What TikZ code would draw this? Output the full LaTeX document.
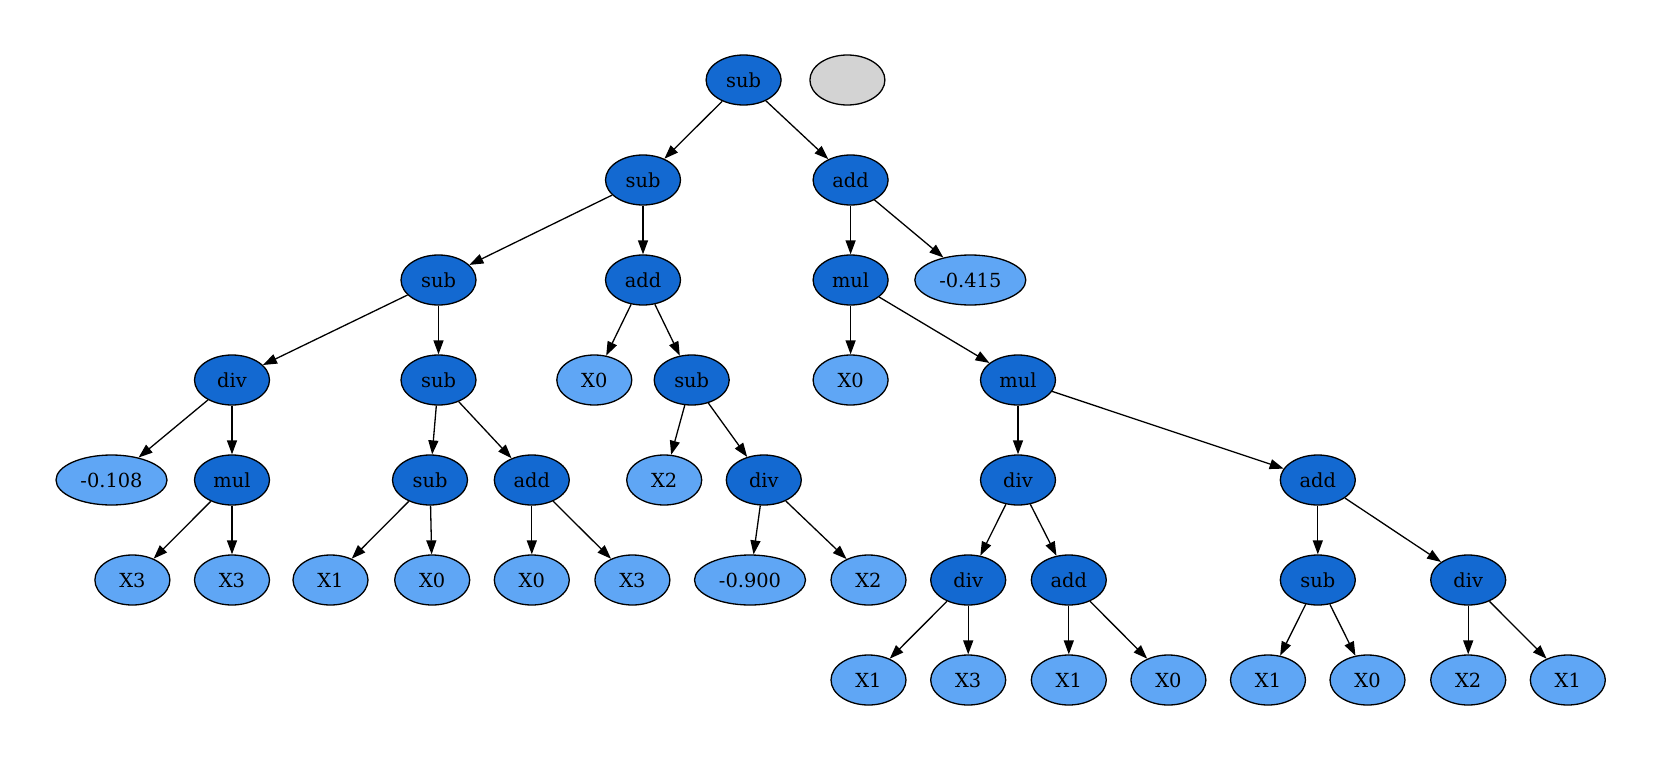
\documentclass[tikz,border=0pt]{standalone}
\usepackage{fontspec}
\setmainfont{DejaVu Serif}
\usetikzlibrary{shapes.geometric,arrows.meta}
\definecolor{opc}{HTML}{1369D1}
\definecolor{leafc}{HTML}{5FA6F5}
\definecolor{grayc}{HTML}{D3D3D3}
\tikzset{
  base/.style={ellipse,draw=black,line width=1.3pt,minimum width=75pt,minimum height=50pt,inner sep=0pt,font=\fontsize{19.4}{23}\selectfont},
  op/.style={base,fill=opc},
  leaf/.style={base,fill=leafc},
  wide/.style={minimum width=111pt},
  edge/.style={line width=1.3pt,-{Triangle[length=14pt,width=10pt]}}
}
\begin{document}
\begin{tikzpicture}[x=1pt,y=-1pt]
\useasboundingbox (0,0) rectangle (1661,760);
% row 1
\node[op] (r) at (743.6,80) {sub};
\node[base,fill=grayc] (g) at (847.4,80) {};
% row 2
\node[op] (s1) at (643,180) {sub};
\node[op] (a1) at (850.6,180) {add};
% row 3
\node[op] (s2) at (438.5,280) {sub};
\node[op] (a2) at (643,280) {add};
\node[op] (m1) at (850.6,280) {mul};
\node[leaf,wide] (c415) at (970.3,280) {-0.415};
% row 4
\node[op] (d1) at (232,380) {div};
\node[op] (s3) at (438.5,380) {sub};
\node[leaf] (x0a) at (594.3,380) {X0};
\node[op] (s4) at (691.7,380) {sub};
\node[leaf] (x0b) at (850.6,380) {X0};
\node[op] (m2) at (1018,380) {mul};
% row 5
\node[leaf,wide] (c108) at (111.5,480) {-0.108};
\node[op] (m3) at (232,480) {mul};
\node[op] (s5) at (430,480) {sub};
\node[op] (a3) at (531.8,480) {add};
\node[leaf] (x2a) at (664.2,480) {X2};
\node[op] (d2) at (763.8,480) {div};
\node[op] (d3) at (1018,480) {div};
\node[op] (a4) at (1317.8,480) {add};
% row 6
\node[leaf] (l1) at (132.4,580) {X3};
\node[leaf] (l2) at (232,580) {X3};
\node[leaf] (l3) at (330.5,580) {X1};
\node[leaf] (l4) at (432.2,580) {X0};
\node[leaf] (l5) at (531.8,580) {X0};
\node[leaf] (l6) at (632.4,580) {X3};
\node[leaf,wide] (l7) at (750,580) {-0.900};
\node[leaf] (l8) at (868.5,580) {X2};
\node[op] (d4) at (968.2,580) {div};
\node[op] (a5) at (1068.8,580) {add};
\node[op] (s6) at (1317.8,580) {sub};
\node[op] (d5) at (1468.2,580) {div};
% row 7
\node[leaf] (k1) at (868.5,680) {X1};
\node[leaf] (k2) at (968.2,680) {X3};
\node[leaf] (k3) at (1068.8,680) {X1};
\node[leaf] (k4) at (1168.4,680) {X0};
\node[leaf] (k5) at (1268,680) {X1};
\node[leaf] (k6) at (1367.5,680) {X0};
\node[leaf] (k7) at (1468.2,680) {X2};
\node[leaf] (k8) at (1567.8,680) {X1};
% edges
\foreach \a/\b in {r/s1,r/a1,s1/s2,s1/a2,a1/m1,a1/c415,s2/d1,s2/s3,a2/x0a,a2/s4,m1/x0b,m1/m2,
  d1/c108,d1/m3,s3/s5,s3/a3,s4/x2a,s4/d2,m2/d3,m2/a4,m3/l1,m3/l2,s5/l3,s5/l4,a3/l5,a3/l6,d2/l7,d2/l8,
  d3/d4,d3/a5,a4/s6,a4/d5,d4/k1,d4/k2,a5/k3,a5/k4,s6/k5,s6/k6,d5/k7,d5/k8}
  \draw[edge] (\a) -- (\b);
\end{tikzpicture}
\end{document}
